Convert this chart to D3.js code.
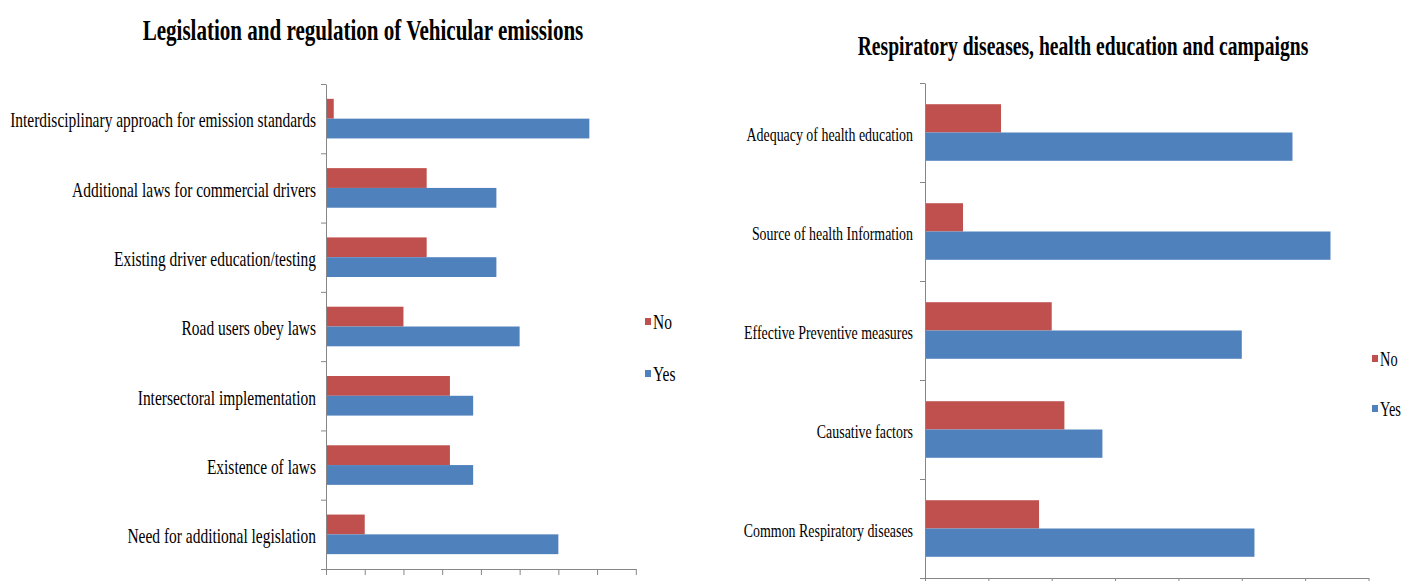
<!DOCTYPE html>
<html>
<head>
<meta charset="utf-8">
<script src="https://cdn.jsdelivr.net/npm/d3@7"></script>
<style>
  html, body { margin: 0; padding: 0; background: #ffffff; }
  svg { display: block; }
  text { font-family: "Liberation Serif", "Times New Roman", serif; fill: #000; }
</style>
</head>
<body>
<svg id="chart" width="1416" height="581"></svg>
<script>
// Survey responses (counts of respondents), categories listed top to bottom
const series = ["No", "Yes"];
const seriesColors = ["#C0504D", "#4F81BD"];

const legCategories = [
  "Interdisciplinary approach for emission standards",
  "Additional laws for commercial drivers",
  "Existing driver education/testing",
  "Road users obey laws",
  "Intersectoral implementation",
  "Existence of laws",
  "Need for additional legislation"
];
const legNo  = [2, 26, 26, 20, 32, 32, 10];
const legYes = [68, 44, 44, 50, 38, 38, 60];
const legTicks = [0, 10, 20, 30, 40, 50, 60, 70, 80];

const respCategories = [
  "Adequacy of health education",
  "Source of health Information",
  "Effective Preventive measures",
  "Causative factors",
  "Common Respiratory diseases"
];
const respNo  = [12, 6, 20, 22, 18];
const respYes = [58, 64, 50, 28, 52];
const respTicks = [0, 10, 20, 30, 40, 50, 60, 70];

const svg = d3.select("#chart");
const AXIS = "#868686";

// text in these charts is set in a narrow serif; squeeze horizontally
function placeText(sel, x, y, k) {
  sel.attr("transform", `translate(${x},${y}) scale(${k},1)`);
}

function drawChart(cfg) {
  const g = svg.append("g");
  const n = cfg.categories.length;

  const x = d3.scaleLinear()
    .domain([0, d3.max(cfg.ticks)])
    .range([cfg.left, cfg.right]);

  const y = d3.scaleBand()
    .domain(cfg.categories)
    .range([cfg.top, cfg.bottom])
    .paddingInner(0).paddingOuter(0);

  // two bars per category, Excel-style 150% gap
  const ySeries = d3.scaleBand()
    .domain(series)
    .range([0, y.bandwidth()])
    .paddingInner(0).paddingOuter(0.75);

  const rows = cfg.categories.map((c, i) => ({
    cat: c,
    vals: [
      { s: "No", v: cfg.no[i] },
      { s: "Yes", v: cfg.yes[i] }
    ]
  }));

  const groups = g.selectAll("g.cat")
    .data(rows).enter().append("g")
    .attr("transform", d => `translate(0,${y(d.cat)})`);

  groups.selectAll("rect")
    .data(d => d.vals).enter().append("rect")
    .attr("x", x(0))
    .attr("y", d => ySeries(d.s))
    .attr("width", d => x(d.v) - x(0))
    .attr("height", ySeries.bandwidth())
    .attr("fill", d => seriesColors[series.indexOf(d.s)]);

  // value axis (bottom)
  const xAxis = g.append("g")
    .attr("transform", `translate(0,${cfg.bottom})`)
    .call(d3.axisBottom(x).tickValues(cfg.ticks).tickFormat("").tickSize(6).tickSizeOuter(0));
  xAxis.selectAll("path, line").attr("stroke", AXIS);

  // category axis with ticks on band boundaries
  const yEdge = d3.scaleLinear().domain([0, n]).range([cfg.top, cfg.bottom]);
  const yAxis = g.append("g")
    .attr("transform", `translate(${cfg.left},0)`)
    .call(d3.axisLeft(yEdge).tickValues(d3.range(n + 1)).tickFormat("").tickSize(5).tickSizeOuter(0));
  yAxis.selectAll("path, line").attr("stroke", AXIS);

  // category labels
  g.selectAll("text.lab")
    .data(cfg.categories).enter().append("text")
    .attr("class", "lab")
    .attr("text-anchor", "end")
    .attr("dominant-baseline", "central")
    .style("font-size", cfg.labelSize + "px")
    .text(d => d)
    .each(function (d) {
      placeText(d3.select(this), cfg.labelX, y(d) + y.bandwidth() / 2 + 2, cfg.squeeze);
    });

  // title
  g.append("text")
    .attr("text-anchor", "middle")
    .style("font-size", cfg.titleSize + "px")
    .style("font-weight", "bold")
    .text(cfg.title)
    .call(s => placeText(s, cfg.titleX, cfg.titleY, cfg.titleSqueeze));

  // legend
  const leg = g.selectAll("g.leg")
    .data(series).enter().append("g")
    .attr("transform", (d, i) => `translate(${cfg.legendX},${cfg.legendY + i * cfg.legendGap})`);
  leg.append("rect")
    .attr("x", 0).attr("y", -3)
    .attr("width", 6).attr("height", 7)
    .attr("fill", (d, i) => seriesColors[i]);
  leg.append("text")
    .attr("dominant-baseline", "central")
    .style("font-size", cfg.legendSize + "px")
    .text(d => d)
    .each(function () { placeText(d3.select(this), 8, 1, cfg.legendSqueeze); });
}

drawChart({
  title: "Legislation and regulation of Vehicular emissions",
  categories: legCategories, no: legNo, yes: legYes, ticks: legTicks,
  left: 326, right: 635.8, top: 84, bottom: 569,
  labelX: 316, labelSize: 21, squeeze: 0.737,
  titleX: 363, titleY: 40, titleSize: 29, titleSqueeze: 0.726,
  legendX: 645, legendY: 321, legendGap: 52, legendSize: 21, legendSqueeze: 0.737
});

drawChart({
  title: "Respiratory diseases, health education and campaigns",
  categories: respCategories, no: respNo, yes: respYes, ticks: respTicks,
  left: 925, right: 1368.5, top: 83, bottom: 578,
  labelX: 913, labelSize: 19, squeeze: 0.733,
  titleX: 1083, titleY: 55, titleSize: 28, titleSqueeze: 0.70,
  legendX: 1372, legendY: 358, legendGap: 50, legendSize: 20, legendSqueeze: 0.72
});
</script>
</body>
</html>
